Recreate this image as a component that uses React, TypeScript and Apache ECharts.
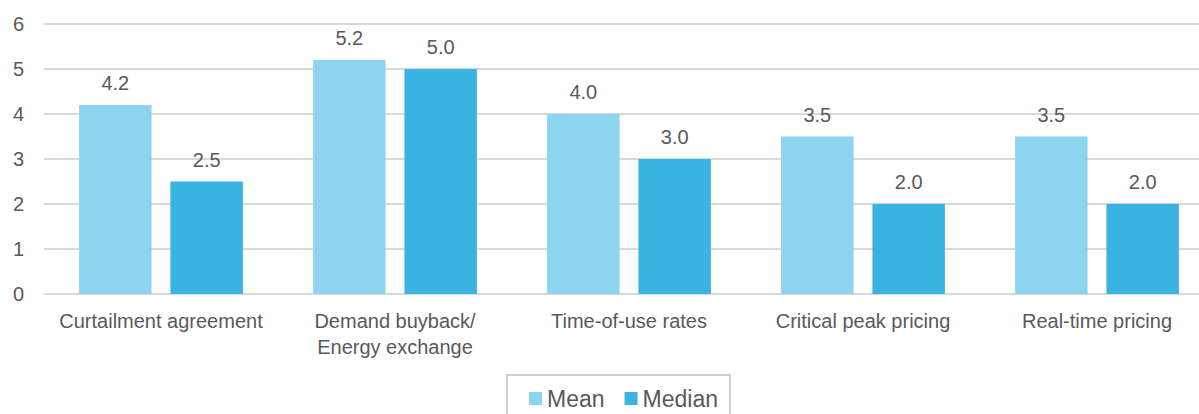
import React, { useEffect, useRef } from "react";
import * as echarts from "echarts";

const categories = [
  "Curtailment agreement",
  "Demand buyback/\nEnergy exchange",
  "Time-of-use rates",
  "Critical peak pricing",
  "Real-time pricing",
];
const meanValues = [4.2, 5.2, 4.0, 3.5, 3.5];
const medianValues = [2.5, 5.0, 3.0, 2.0, 2.0];
const yTicks = [0, 1, 2, 3, 4, 5, 6];

const FONT = "Liberation Sans";
const TEXT = "#595959";

export default function App() {
  const ref = useRef<HTMLDivElement>(null);
  useEffect(() => {
    if (!ref.current) return;
    const chart = echarts.init(ref.current, undefined, { renderer: "svg" });
    const label = {
      show: true,
      position: "top" as const,
      distance: 12,
      color: TEXT,
      fontFamily: FONT,
      fontSize: 20,
      formatter: (p: any) => Number(p.value).toFixed(1),
    };
    chart.setOption({
      animation: false,
      grid: {
        left: 44,
        width: 1170,
        top: 24,
        height: 270,
        containLabel: false,
        outerBoundsMode: "none",
      },
      legend: {
        data: ["Mean", "Median"],
        left: 507,
        top: 375,
        padding: [12, 12, 20, 22],
        borderColor: "#bfbfbf",
        borderWidth: 1.5,
        itemWidth: 13,
        itemHeight: 13,
        itemGap: 20,
        icon: "rect",
        textStyle: { color: TEXT, fontFamily: FONT, fontSize: 23 },
      },
      xAxis: {
        type: "category",
        data: categories,
        axisLine: { show: true, lineStyle: { color: "#d9d9d9", width: 2 } },
        axisTick: { show: false },
        axisLabel: {
          color: TEXT,
          fontFamily: FONT,
          fontSize: 20,
          margin: 14,
          lineHeight: 26,
          interval: 0,
        },
      },
      yAxis: {
        type: "value",
        min: yTicks[0],
        max: yTicks[yTicks.length - 1],
        interval: 1,
        axisLine: { show: false },
        axisTick: { show: false },
        splitLine: { lineStyle: { color: "#d9d9d9", width: 2 } },
        axisLabel: { color: TEXT, fontFamily: FONT, fontSize: 20, margin: 20 },
      },
      series: [
        {
          name: "Mean",
          type: "bar",
          data: meanValues,
          itemStyle: { color: "#8dd4ef" },
          barGap: "26%",
          barCategoryGap: "30%",
          label,
        },
        {
          name: "Median",
          type: "bar",
          data: medianValues,
          itemStyle: { color: "#3bb3e2" },
          barGap: "26%",
          barCategoryGap: "30%",
          label,
        },
      ],
    });
    return () => chart.dispose();
  }, []);
  return (
    <div
      ref={ref}
      style={{ position: "absolute", left: 0, top: 0, width: 1199, height: 414, background: "#fff" }}
    />
  );
}
